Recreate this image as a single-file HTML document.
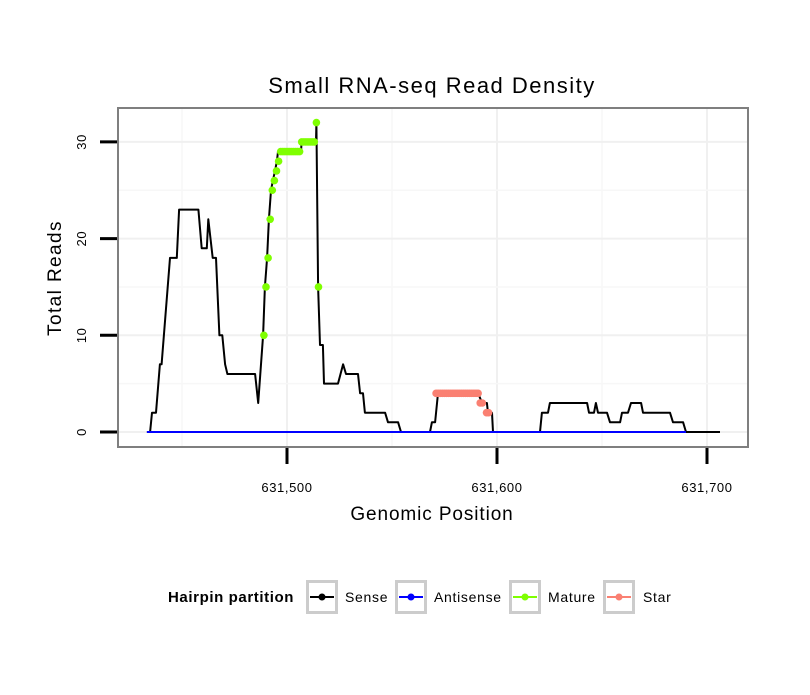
<!DOCTYPE html>
<html><head><meta charset="utf-8"><style>
body{margin:0;background:#fff;}
svg text{font-family:"Liberation Sans",sans-serif;}
</style></head><body>
<svg id="chart" width="810" height="690" xmlns="http://www.w3.org/2000/svg">
<rect width="810" height="690" fill="#fff"/>
<g id="grid"></g>
<g id="series"></g>
<rect x="118" y="108" width="630" height="339" fill="none" stroke="#7f7f7f" stroke-width="2"/>
<g id="axes"></g>
<text x="432" y="93" font-size="22" letter-spacing="1.5" text-anchor="middle">Small RNA-seq Read Density</text>
<text x="432" y="520" font-size="19" letter-spacing="0.9" text-anchor="middle">Genomic Position</text>
<text x="61" y="278" font-size="19" letter-spacing="1.4" text-anchor="middle" transform="rotate(-90 61 278)">Total Reads</text>
<g>
<text x="168" y="602" font-size="15" font-weight="bold" letter-spacing="0.6">Hairpin partition</text>
<g><rect x="307.5" y="581.5" width="29" height="31" fill="#fff" stroke="#ccc" stroke-width="3"/><line x1="310" y1="597" x2="334" y2="597" stroke="#000" stroke-width="2"/><circle cx="322" cy="597" r="3.5" fill="#000"/><text x="345" y="602" font-size="14" letter-spacing="0.7">Sense</text></g>
<g><rect x="396.5" y="581.5" width="29" height="31" fill="#fff" stroke="#ccc" stroke-width="3"/><line x1="399" y1="597" x2="423" y2="597" stroke="#00f" stroke-width="2"/><circle cx="411" cy="597" r="3.5" fill="#00f"/><text x="434" y="602" font-size="14" letter-spacing="0.7">Antisense</text></g>
<g><rect x="510.5" y="581.5" width="29" height="31" fill="#fff" stroke="#ccc" stroke-width="3"/><line x1="513" y1="597" x2="537" y2="597" stroke="#7fff00" stroke-width="2"/><circle cx="525" cy="597" r="3.5" fill="#7fff00"/><text x="548" y="602" font-size="14" letter-spacing="0.7">Mature</text></g>
<g><rect x="604.5" y="581.5" width="29" height="31" fill="#fff" stroke="#ccc" stroke-width="3"/><line x1="607" y1="597" x2="631" y2="597" stroke="#fa8072" stroke-width="2"/><circle cx="619" cy="597" r="3.5" fill="#fa8072"/><text x="643" y="602" font-size="14" letter-spacing="0.7">Star</text></g>
</g>
</svg>
<script>
const xTicks=[631500,631600,631700];
const xTickLabels=["631,500","631,600","631,700"];
const yTicks=[0,10,20,30];
const senseX=[631433.3,631434.8,631435.7,631437.6,631439.5,631440.3,631444.3,631447.5,631448.6,631457.8,631459.4,631461.8,631462.5,631464.6,631466.2,631467.8,631469.2,631470.5,631471.6,631484.8,631486.3,631488.6,631489.5,631490.5,631491.4,631492.4,631493.3,631494.3,631495.2,631495.7,631506.7,631506.9,631513.8,631514,631514.8,631515.7,631517.1,631517.6,631524.3,631526.7,631528.1,631533.8,631534.8,631536.2,631537.1,631546.7,631548.1,631552.9,631554.3,631568.1,631569,631570.5,631571.9,631591,631592.9,631595.2,631595.7,631597.6,631598.1,631620.5,631621.4,631624.3,631625.2,631642.9,631643.8,631646.2,631647.1,631648.1,631652.4,631653.8,631658.6,631659.5,631662.4,631663.8,631668.6,631669.5,631682.4,631683.8,631688.6,631690,631706.2];
const senseY=[0,0,2,2,7,7,18,18,23,23,19,19,22,18,18,10,10,7,6,6,3,10,15,18,22,25,26,27,28,29,29,30,30,32,15,9,9,5,5,7,6,6,4,4,2,2,1,1,0,0,1,1,4,4,3,3,2,2,0,0,2,2,3,3,2,2,3,2,2,1,1,2,2,3,3,2,2,1,1,0,0];
const antisenseX=[631433.3,631690];
const antisenseY=[0,0];
const matureX=[631489,631490,631491,631492,631493,631494,631495,631496,631497,631498,631499,631500,631501,631502,631503,631504,631505,631506,631507,631508,631509,631510,631511,631512,631513,631514,631515];
const matureY=[10,15,18,22,25,26,27,28,29,29,29,29,29,29,29,29,29,29,30,30,30,30,30,30,30,32,15];
const starX=[631571,631572,631573,631574,631575,631576,631577,631578,631579,631580,631581,631582,631583,631584,631585,631586,631587,631588,631589,631590,631591,631592,631593,631595,631596];
const starY=[4,4,4,4,4,4,4,4,4,4,4,4,4,4,4,4,4,4,4,4,4,3,3,2,2];

const NS="http://www.w3.org/2000/svg";
const xs=p=>287+(p-631500)*2.1;
const ys=v=>432-v*9.67;
function mk(tag,attrs,parent){const e=document.createElementNS(NS,tag);for(const k in attrs)e.setAttribute(k,attrs[k]);parent.appendChild(e);return e;}
const grid=document.getElementById('grid'),series=document.getElementById('series'),axes=document.getElementById('axes');
for(let p=631450;p<=631750;p+=50){const x=xs(p);if(x<119||x>747)continue;
 const g=mk('line',{x1:x,x2:x,y1:109,y2:446,stroke:(p%100===0)?'#f0f0f0':'#f7f7f7','stroke-width':(p%100===0)?2:1.5},grid);
 
 }
for(let v=0;v<=35;v+=5){const y=ys(v);if(y<109)continue;
 const g=mk('line',{x1:119,x2:747,y1:y,y2:y,stroke:(v%10===0)?'#f0f0f0':'#f7f7f7','stroke-width':(v%10===0)?2:1.5},grid);
 
 }
xTicks.forEach((t,i)=>{const x=xs(t);
 const l=mk('line',{x1:x,x2:x,y1:448,y2:464,stroke:'#000','stroke-width':3},axes);
 
 
 const tx=mk('text',{x:x,y:492,'font-size':13,'letter-spacing':0.6,'text-anchor':'middle'},axes);tx.textContent=xTickLabels[i];
 
 });
yTicks.forEach(t=>{const y=ys(t);
 const l=mk('line',{x1:100,x2:117,y1:y,y2:y,stroke:'#000','stroke-width':3},axes);
 
 
 const tx=mk('text',{x:86,y:y,'font-size':13,'letter-spacing':0.6,'text-anchor':'middle',transform:`rotate(-90 86 ${y})`},axes);tx.textContent=String(t);
 
 });
function line(X,Y,color,name){const pts=X.map((p,i)=>xs(p).toFixed(1)+','+ys(Y[i]).toFixed(1)).join(' ');
 const pl=mk('polyline',{points:pts,fill:'none',stroke:color,'stroke-width':2,'stroke-linejoin':'round'},series);
 
 }
function dots(X,Y,color,name){X.forEach((p,i)=>{const c=mk('circle',{cx:xs(p),cy:ys(Y[i]),r:3.8,fill:color},series);
 
 });}
line(senseX,senseY,'#000','sense-line');
line(antisenseX,antisenseY,'#00f','antisense-line');
dots(matureX,matureY,'#7fff00','mature-point');
dots(starX,starY,'#fa8072','star-point');
</script>
</body></html>
